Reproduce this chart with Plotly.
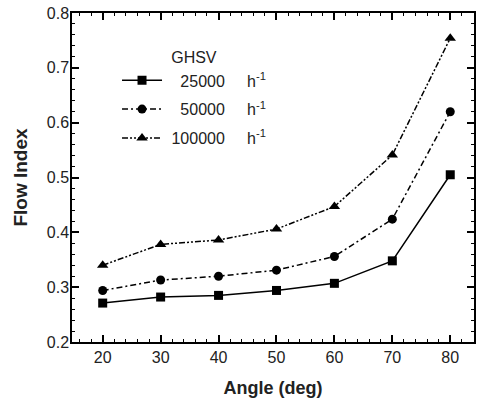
import plotly.graph_objects as go

angles = [20, 30, 40, 50, 60, 70, 80]
ghsv_labels = ["25000", "50000", "100000"]
flow_25000 = [0.271, 0.282, 0.285, 0.294, 0.307, 0.348, 0.505]
flow_50000 = [0.294, 0.313, 0.320, 0.331, 0.356, 0.424, 0.620]
flow_100000 = [0.340, 0.378, 0.386, 0.406, 0.447, 0.541, 0.754]

series = [flow_25000, flow_50000, flow_100000]
symbols = ["square", "circle", "triangle-up"]
dashes = ["solid", "6px,3px,2px,3px", "6px,2px,2px,2px,2px,2px"]
msizes = [9, 9, 10]
pad = ["\u00a0\u00a0\u00a0", "\u00a0\u00a0\u00a0", "\u00a0"]
FONT = "Liberation Sans, Arial, sans-serif"

fig = go.Figure()
for i, (lab, ys) in enumerate(zip(ghsv_labels, series)):
    fig.add_trace(go.Scatter(
        x=angles, y=ys, mode="lines+markers",
        name=f"{pad[i]}{lab}\u00a0\u00a0\u00a0\u00a0\u00a0h<sup>-1</sup>",
        legendgroup=lab,
        line=dict(color="black", width=1.5, dash=dashes[i]),
        marker=dict(symbol=symbols[i], size=msizes[i], color="black"),
    ))

axis_common = dict(
    showgrid=False, zeroline=False, showline=True, linecolor="black", linewidth=1.5,
    mirror="ticks", ticks="inside", ticklen=7, tickwidth=1.5, tickcolor="black",
    tickfont=dict(family=FONT, size=16, color="#222"),
)

fig.update_xaxes(
    range=[14.7, 84.1], tickvals=angles, ticktext=[str(a) for a in angles],
    minor=dict(ticks="inside", dtick=2, ticklen=3, tickcolor="black", tickwidth=1),
    title=dict(text="<b>Angle (deg)</b>", font=dict(family=FONT, size=18, color="#222"), standoff=16),
    **axis_common,
)
fig.update_yaxes(
    range=[0.2, 0.8], tickvals=[0.2, 0.3, 0.4, 0.5, 0.6, 0.7, 0.8],
    ticktext=["0.2", "0.3", "0.4", "0.5", "0.6", "0.7", "0.8"],
    minor=dict(ticks="inside", dtick=0.02, ticklen=3, tickcolor="black", tickwidth=1),
    ticklabelstandoff=-2,
    title=dict(text="<b>Flow Index</b>", font=dict(family=FONT, size=19, color="#222"), standoff=14),
    **axis_common,
)

fig.update_layout(
    width=478, height=404,
    margin=dict(l=72, r=2, t=13, b=62),
    paper_bgcolor="white", plot_bgcolor="white",
    showlegend=True,
    legend=dict(
        x=0.112, y=0.91, xanchor="left", yanchor="top",
        bgcolor="rgba(0,0,0,0)",
        title=dict(text="GHSV", side="top center", font=dict(family=FONT, size=16, color="#222")),
        font=dict(family=FONT, size=16, color="#222"),
        tracegroupgap=5, traceorder="grouped", itemwidth=40,
    ),
)

fig.write_html("out.html")
